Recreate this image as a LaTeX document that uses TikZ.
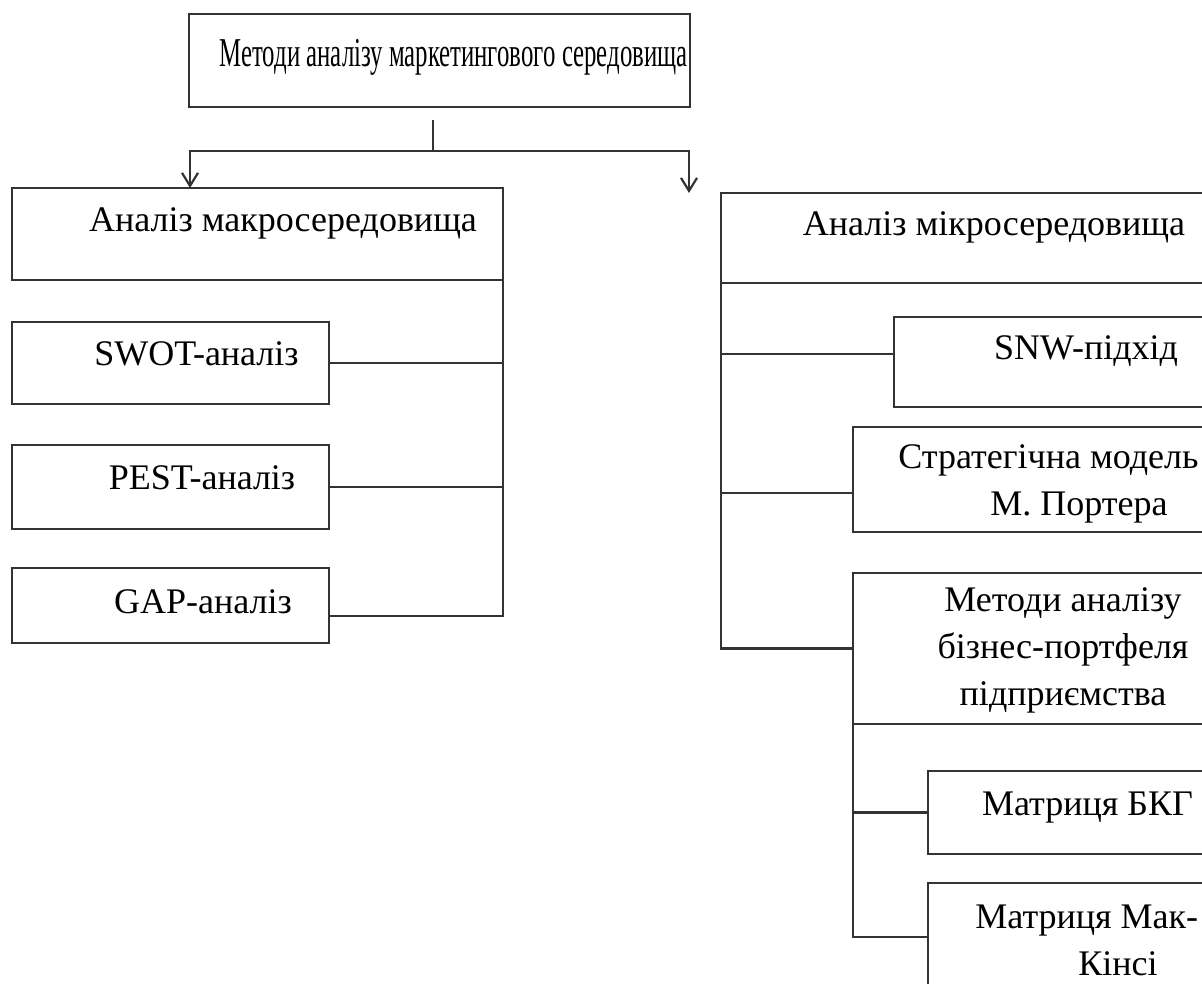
\documentclass[tikz,border=0pt]{standalone}
\usepackage{fontspec}
\setmainfont{Liberation Serif}
\usetikzlibrary{arrows.meta,positioning,calc}

\begin{document}
\begin{tikzpicture}[x=0.5pt, y=-0.5pt,
    >={Straight Barb[length=6.5pt, width=8pt]},
    box/.style={draw=black!80, line width=1.1pt, outer sep=0pt, inner sep=0pt, anchor=north west},
    lbl/.style={font=\fontsize{18}{23.5}\selectfont, inner sep=0pt, anchor=base},
    conn/.style={draw=black!80, line width=1.1pt}]
\useasboundingbox (0,0) rectangle (1202,983);
\clip (0,0) rectangle (1202,983);

\node[box, minimum width=250.5pt, minimum height=46.5pt] (top) at (189,14) {};
\node[box, minimum width=245.5pt, minimum height=46pt] (macro) at (12,188) {};
\node[box, minimum width=158.5pt, minimum height=41pt] (swot) at (12,322) {};
\node[box, minimum width=158.5pt, minimum height=42pt] (pest) at (12,445) {};
\node[box, minimum width=158.5pt, minimum height=37.5pt] (gap) at (12,568) {};
\node[box, minimum width=260pt, minimum height=45pt] (micro) at (721,193) {};
\node[box, minimum width=180pt, minimum height=45pt] (snw) at (894,317) {};
\node[box, minimum width=200pt, minimum height=52.5pt] (porter) at (853,427) {};
\node[box, minimum width=200pt, minimum height=75.5pt] (portf) at (853,573) {};
\node[box, minimum width=160pt, minimum height=41.5pt] (bkg) at (928,771) {};
\node[box, minimum width=160pt, minimum height=75pt] (mck) at (928,883) {};

\node[lbl] (toplbl) at (453.5,67) {\scalebox{0.605}[1]{\fontsize{20.5}{24}\selectfont Методи аналізу маркетингового середовища}};
\node[lbl] (macrolbl) at (283,232) {Аналіз макросередовища};
\node[lbl] (swotlbl) at (196.5,365) {SWOT-аналіз};
\node[lbl] (pestlbl) at (202,489) {PEST-аналіз};
\node[lbl] (gaplbl) at (203,613) {GAP-аналіз};
\node[lbl] (microlbl) at (994,236) {Аналіз мікросередовища};
\node[lbl] (snwlbl) at (1086,360) {SNW-підхід};
\node[lbl, anchor=base west, align=left] (porterlbl) at (898,515) {Стратегічна модель\\\hspace*{46pt}М. Портера};
\node[lbl, align=center] (portflbl) at (1063,705) {Методи аналізу\\бізнес-портфеля\\підприємства};
\node[lbl] (bkglbl) at (1087.5,815) {Матриця БКГ};
\node[lbl, anchor=base west, align=left] (mcklbl) at (975,975) {Матриця Мак-\\\hspace*{51.5pt}Кінсі};

\coordinate (stem) at (433,120);
\coordinate (split) at (433,151);
\draw[conn] (stem) -- (split);
\draw[conn, ->] (split) -| (190,0 |- macro.north);
\draw[conn, ->] (split) -| (689,0 |- micro.north);

\coordinate (gapin) at ($(gap.east)+(0,10.5)$);
\draw[conn] (macro.south east) |- (gapin);
\draw[conn] (swot.east) -- (swot.east -| macro.east);
\draw[conn] (pest.east) -- (pest.east -| macro.east);

\coordinate (snwin) at ($(snw.west)+(0,-8)$);
\coordinate (porterin) at ($(porter.west)+(0,13.5)$);
\coordinate (mckin) at ($(mck.north west)+(0,54)$);
\draw[conn] (micro.south west) |- (portf.west);
\draw[conn] (snwin) -- (snwin -| micro.west);
\draw[conn] (porterin) -- (porterin -| micro.west);
\draw[conn] (portf.south west) |- (mckin);
\draw[conn] (bkg.west) -- (bkg.west -| portf.west);
\end{tikzpicture}
\end{document}
